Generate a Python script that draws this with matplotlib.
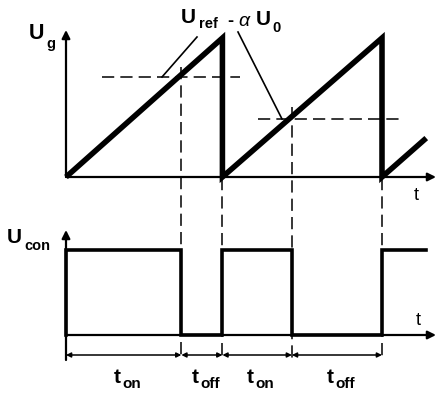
import matplotlib
matplotlib.use("Agg")
import matplotlib.pyplot as plt

# ---- data (time in switching periods, voltages normalised) ----
saw_t = [0.0, 0.99, 0.99, 2.0, 2.0, 2.28]
saw_u = [0.0, 1.0, 0.0, 1.0, 0.0, 0.28]
ref_levels = [0.72, 0.42]
ref_spans = [(0.23, 1.10), (1.215, 2.11)]
switch_t = [0.73, 0.99, 1.43, 2.0]
dash_top = [0.79, -0.01, 0.50, -0.01]
con_t = [0.0, 0.0, 0.73, 0.73, 0.99, 0.99, 1.43, 1.43, 2.0, 2.0, 2.28]
con_u = [0.0, 1.0, 1.0, 0.0, 0.0, 1.0, 1.0, 0.0, 0.0, 1.0, 1.0]
interval_labels = [("t", "on"), ("t", "off"), ("t", "on"), ("t", "off")]

W, H = 448, 399
fig = plt.figure(figsize=(W / 100, H / 100), dpi=100)
fig.patch.set_facecolor("white")

# pixel mapping: x_px = 66 + t*158 ; top: y_px = 177 - Ug*139 ; bottom: y_px = 335 - Ucon*85
x0, xs = 66, 158
ax1 = fig.add_axes([0, 0, 1, 1])
ax1.set_xlim(-x0 / xs, (W - x0) / xs)
ax1.set_ylim((177 - H) / 139, 177 / 139)
ax2 = fig.add_axes([0, 0, 1, 1], sharex=ax1)
ax2.set_ylim((335 - H) / 85, 335 / 85)
for a in (ax1, ax2):
    a.axis("off")
    a.patch.set_alpha(0)

k = "black"
fam = ["Liberation Sans", "DejaVu Sans"]
tmax = (436 - x0) / xs

# axes of top panel
ax1.annotate("", xy=(0, (177 - 30) / 139), xytext=(0, 0),
             arrowprops=dict(arrowstyle="-|>", color=k, lw=1.6, mutation_scale=12, shrinkA=0, shrinkB=0))
ax1.annotate("", xy=(tmax, 0), xytext=(0, 0),
             arrowprops=dict(arrowstyle="-|>", color=k, lw=1.6, mutation_scale=12, shrinkA=0, shrinkB=0))
# sawtooth
ax1.plot(saw_t, saw_u, color=k, lw=4.0, solid_joinstyle="miter", solid_capstyle="butt")
# reference levels
for lv, (a0, a1) in zip(ref_levels, ref_spans):
    ax1.plot([a0, a1], [lv, lv], color=k, lw=1.1, linestyle=(0, (8, 4)))
# vertical dashed lines
ybot = (177 - 360) / 139
for ts, yt in zip(switch_t, dash_top):
    ax1.plot([ts, ts], [yt, ybot], color=k, lw=1.1, linestyle=(0, (8, 4)))
# leader lines
ax1.plot([(162 - x0) / xs, (197 - x0) / xs], [(177 - 77) / 139, (177 - 37) / 139], color=k, lw=1.2)
ax1.plot([(238 - x0) / xs, (282 - x0) / xs], [(177 - 32) / 139, (177 - 119) / 139], color=k, lw=1.2)

# bottom panel axes
ax2.annotate("", xy=(0, (335 - 230) / 85), xytext=(0, (335 - 360) / 85),
             arrowprops=dict(arrowstyle="-|>", color=k, lw=1.6, mutation_scale=12, shrinkA=0, shrinkB=0))
ax2.annotate("", xy=(tmax, 0), xytext=(0, 0),
             arrowprops=dict(arrowstyle="-|>", color=k, lw=1.6, mutation_scale=12, shrinkA=0, shrinkB=0))
ax2.plot(con_t, con_u, color=k, lw=2.6, solid_joinstyle="miter")

# dimension arrows
ydim = (335 - 355) / 85
bounds = [0.0] + switch_t
for i in range(4):
    ax2.annotate("", xy=(bounds[i + 1], ydim), xytext=(bounds[i], ydim),
                 arrowprops=dict(arrowstyle="<|-|>", color=k, lw=1.1, mutation_scale=7, shrinkA=0, shrinkB=0))
    xc = (bounds[i] + bounds[i + 1]) / 2
    main, sub = interval_labels[i]
    ax2.text(xc - 0.02, (335 - 383) / 85, main, ha="right", va="baseline", fontsize=15,
             fontweight="bold", family=fam, color=k)
    ax2.text(xc - 0.01, (335 - 388) / 85, sub, ha="left", va="baseline", fontsize=11,
             fontweight="bold", family=fam, color=k)


def ftext(xp, yp, s, size, bold=True, style="normal"):
    fig.text(xp / W, 1 - yp / H, s, fontsize=size, fontweight="bold" if bold else "normal",
             family=fam, color=k, va="baseline", ha="left", style=style)

# labels
ftext(29, 39, "U", 15.5)
ftext(46, 48, "g", 10.5)
ftext(7, 243, "U", 15)
ftext(24, 250, "con", 10.5)
ftext(414, 200, "t", 13, bold=False)
ftext(416, 325, "t", 13, bold=False)
ftext(181, 23, "U", 15)
ftext(199, 28, "ref", 10.5)
ftext(227, 26, "-", 13)
ftext(238, 26, "α", 14, bold=False, style="italic")
ftext(256, 25, "U", 15)
ftext(272, 32, "0", 10.5)

fig.savefig("out.png", dpi=100, facecolor="white")
